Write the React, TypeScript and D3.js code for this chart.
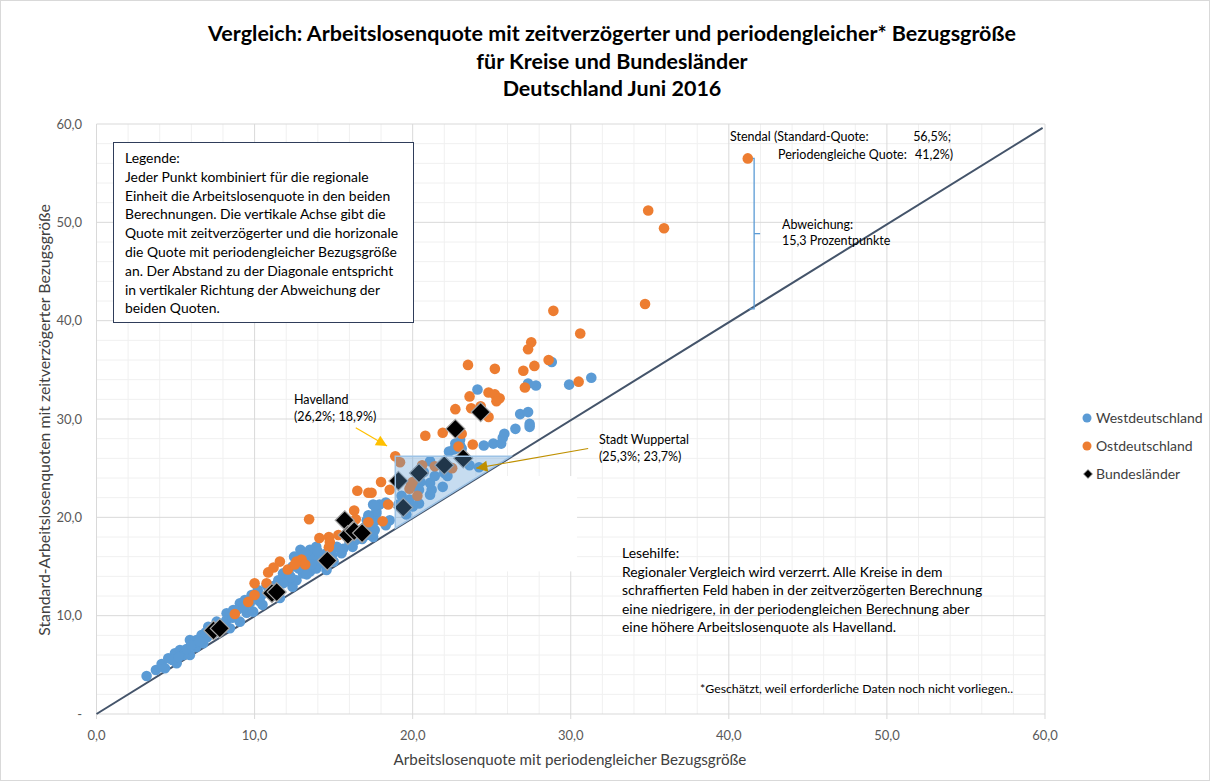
import React from "react";
import * as d3 from "d3";

// Westdeutschland [periodengleich, standard]
const westX = [3.17,3.76,4.12,4.33,4.54,4.96,5.07,5.28,5.5,5.91,5.91,6.33,6.3,6.65,6.75,7.07,7.0,7.6,7.5,8.23,8.0,8.65,8.44,9.07,9.07,9.39,9.5,9.81,9.91,10.2,10.3,10.5,10.76,11.0,11.5,11.6,12.0,12.4,12.66,12.4,12.0,11.8,12.2,11.8,12.65,13.07,13.5,13.9,14.55,12.9,12.5,13.3,13.7,14.1,15.0,15.5,13.9,13.5,14.55,15.2,16.0,16.4,17.1,17.6,17.5,16.9,17.3,17.1,17.6,17.7,17.5,17.7,18.3,17.2,17.9,17.6,17.5,18.55,18.3,19.3,19.1,19.8,20.4,19.7,20.0,20.4,21.1,21.2,21.9,21.1,20.7,21.4,22.0,22.2,21.1,23.6,24.2,20.5,19.6,22.6,23.0,22.7,23.0,22.3,23.1,22.9,22.7,24.5,25.1,25.6,25.7,25.8,26.5,27.4,27.4,26.8,27.3,24.1,27.3,27.8,29.9,31.3,28.8,4.8,5.2,5.7,6.0,6.5,6.9,7.3,7.8,8.2,8.6,8.9,9.3,9.7,10.0,10.4,10.9,11.2,11.4,12.3,12.8,13.3,13.6,14.3,14.9,15.6,16.2,16.8,13.2,14.0];
const westY = [3.87,4.48,5.09,4.65,5.67,6.17,5.16,6.51,6.0,7.53,6.0,7.53,6.8,8.04,7.19,8.88,7.8,9.39,8.3,10.24,9.0,10.58,8.72,11.26,9.39,11.6,10.3,12.1,10.4,12.6,11.5,11.1,13.1,12.2,13.6,11.8,14.3,15.0,15.84,12.95,13.5,14.3,14.1,13.3,13.6,14.3,14.5,14.8,14.65,16.7,16.0,15.5,15.8,15.3,15.5,16.35,17.0,16.7,16.35,17.0,17.4,17.7,18.2,18.7,18.0,18.9,18.5,19.7,19.6,20.4,21.3,20.6,21.5,20.2,21.3,21.2,18.4,19.7,19.2,22.2,21.3,21.8,21.4,21.4,21.1,22.8,22.3,22.8,23.1,23.5,24.6,24.2,24.5,24.2,25.7,25.3,25.1,23.6,20.3,26.9,27.3,27.5,27.9,26.7,27.0,27.6,27.0,27.3,27.5,27.5,28.1,28.5,29.0,29.2,29.5,30.5,30.7,33.0,33.6,33.4,33.5,34.2,35.8,5.5,5.8,6.6,7.0,7.4,8.3,8.6,8.9,9.5,9.8,10.6,10.8,11.3,11.8,12.0,12.6,13.0,12.6,13.9,14.8,14.2,15.2,15.8,16.2,16.8,17.0,17.8,16.3,16.5];

// Ostdeutschland
const ostX = [41.2,34.9,35.9,34.7,28.9,30.6,27.5,27.3,23.5,25.2,27.0,27.7,28.6,30.5,27.1,23.6,24.8,25.2,25.5,25.3,22.7,23.7,24.3,24.8,21.9,23.1,23.8,20.8,22.9,18.9,18.0,17.4,18.1,19.2,20.6,21.4,22.5,19.9,20.3,19.8,20.0,18.55,16.5,17.2,18.45,16.3,16.4,17.2,13.45,14.1,14.7,14.76,14.7,15.3,12.65,12.97,13.2,12.1,12.55,11.6,11.2,10.86,10.76,10.0,10.0,9.6,8.75];
const ostY = [56.5,51.2,49.4,41.7,41.0,38.7,37.8,37.1,35.5,35.1,34.9,35.4,36.0,33.8,33.2,32.3,32.7,32.5,32.1,31.8,31.0,31.1,31.3,30.2,28.6,28.5,27.4,28.3,27.2,26.2,23.6,22.5,19.6,25.6,25.3,25.2,25.0,23.3,22.2,22.9,23.6,22.8,22.7,22.5,21.3,20.7,19.8,19.5,19.8,17.9,18.0,17.5,16.96,18.2,15.5,15.7,15.2,14.7,15.2,15.5,14.9,14.4,13.3,13.3,12.1,11.4,10.17];

// Bundesländer
const landX = [24.3,22.7,23.2,22.0,20.4,19.1,19.4,15.7,15.9,16.3,16.8,14.6,11.1,11.4,7.4,7.8];
const landY = [30.7,29.0,26.0,25.3,24.5,23.7,21.0,19.7,18.2,18.6,18.4,15.6,12.3,12.4,8.5,8.7];

const majorTicks = [0, 10, 20, 30, 40, 50, 60];
const minorTicks = d3.range(0, 61, 2);

const titleLines = [
  "Vergleich: Arbeitslosenquote mit zeitverzögerter und periodengleicher* Bezugsgröße",
  "für Kreise und Bundesländer",
  "Deutschland Juni 2016",
];
const legendBoxLines = [
  "Legende:",
  "Jeder Punkt kombiniert für die regionale",
  "Einheit die Arbeitslosenquote in den beiden",
  "Berechnungen. Die vertikale Achse gibt die",
  "Quote mit zeitverzögerter und die horizonale",
  "die Quote mit periodengleicher Bezugsgröße",
  "an. Der Abstand zu der Diagonale entspricht",
  "in vertikaler Richtung der Abweichung der",
  "beiden Quoten.",
];
const leseLines = [
  "Lesehilfe:",
  "Regionaler Vergleich wird verzerrt. Alle Kreise in dem",
  "schraffierten Feld haben in der zeitverzögerten Berechnung",
  "eine niedrigere, in der periodengleichen Berechnung aber",
  "eine höhere Arbeitslosenquote als Havelland.",
];
const seriesNames = ["Westdeutschland", "Ostdeutschland", "Bundesländer"];

const havelland = { x: 18.9, y: 26.2 };
const stendal = { x: 41.2, y: 56.5 };

const FONT = "Lato, 'Open Sans', sans-serif";
const BLUE = "#5B9BD5";
const ORANGE = "#ED7D31";

export default function App() {
  const W = 1210, H = 781;
  const x = d3.scaleLinear().domain([0, 60]).range([96.5, 1045]);
  const y = d3.scaleLinear().domain([0, 60]).range([714, 124]);
  const fmt = (v: number) => v.toFixed(1).replace(".", ",");

  const west = westX.map((v, i) => [v, westY[i]]);
  const ost = ostX.map((v, i) => [v, ostY[i]]);
  const land = landX.map((v, i) => [v, landY[i]]);

  const diamondPath = (cx: number, cy: number, r: number) =>
    `M${cx},${cy - r}L${cx + r},${cy}L${cx},${cy + r}L${cx - r},${cy}Z`;

  const tri = [
    [havelland.x, havelland.y],
    [havelland.y, havelland.y],
    [havelland.x, havelland.x],
  ];
  const triPath = d3.line<number[]>().x(d => x(d[0])).y(d => y(d[1]))(tri) + "Z";

  // annotation anchors (data units)
  const havArrow = { x1: 16.4, y1: 29.1, x2: 18.38, y2: 27.26 };
  const wupArrow = { x1: 31.1, y1: 27.0, x2: 24.03, y2: 25.0 };
  const brX = 41.6;

  const arrowHead = (x1: number, y1: number, x2: number, y2: number, len: number, wid: number) => {
    const a = Math.atan2(y2 - y1, x2 - x1);
    const bx = x2 - len * Math.cos(a), by = y2 - len * Math.sin(a);
    const px = -Math.sin(a) * wid, py = Math.cos(a) * wid;
    return `M${x2},${y2}L${bx + px},${by + py}L${bx - px},${by - py}Z`;
  };

  const hx1 = x(havArrow.x1), hy1 = y(havArrow.y1), hx2 = x(havArrow.x2), hy2 = y(havArrow.y2);
  const wx1 = x(wupArrow.x1), wy1 = y(wupArrow.y1), wx2 = x(wupArrow.x2), wy2 = y(wupArrow.y2);

  return (
    <svg width={W} height={H} style={{ position: "absolute", left: 0, top: 0, background: "#fff" }} fontFamily={FONT}>
      <rect x={0.5} y={0.5} width={W - 1} height={H - 1} fill="#fff" stroke="#D9D9D9" />
      {/* minor grid */}
      {minorTicks.filter(t => t % 10 !== 0).map(t => (
        <g key={"m" + t}>
          <line x1={x(t)} x2={x(t)} y1={y(0)} y2={y(60)} stroke="#F0F0F0" strokeWidth={1} />
          <line x1={x(0)} x2={x(60)} y1={y(t)} y2={y(t)} stroke="#F0F0F0" strokeWidth={1} />
        </g>
      ))}
      {/* major grid */}
      {majorTicks.map(t => (
        <g key={"M" + t}>
          <line x1={x(t)} x2={x(t)} y1={y(0)} y2={y(60)} stroke="#D9D9D9" strokeWidth={1} />
          <line x1={x(0)} x2={x(60)} y1={y(t)} y2={y(t)} stroke="#D9D9D9" strokeWidth={1} />
          <line x1={x(t)} x2={x(t)} y1={y(0)} y2={y(0) + 5} stroke="#D9D9D9" strokeWidth={1} />
        </g>
      ))}
      {/* white patch */}
      <rect x={x(20)} y={y(24.2)} width={x(30.4) - x(20)} height={y(14.5) - y(24.2)} fill="#fff" />

      {/* diagonal */}
      <line x1={x(0)} y1={y(0)} x2={x(59.85)} y2={y(59.6)} stroke="#44546A" strokeWidth={2} />

      {/* points */}
      {west.map((d, i) => (
        <circle key={"w" + i} cx={x(d[0])} cy={y(d[1])} r={5.3} fill={BLUE} />
      ))}
      {ost.map((d, i) => (
        <circle key={"o" + i} cx={x(d[0])} cy={y(d[1])} r={5.3} fill={ORANGE} />
      ))}
      {land.map((d, i) => (
        <path key={"l" + i} d={diamondPath(x(d[0]), y(d[1]), 9.5)} fill="#000" stroke="#A6A6A6" strokeWidth={1.2} />
      ))}

      {/* shaded triangle */}
      <path d={triPath} fill={BLUE} fillOpacity={0.35} stroke="#9DC3E6" strokeWidth={1.5} />

      {/* Stendal bracket */}
      <path
        d={`M${x(stendal.x) + 5},${y(stendal.y)}H${x(brX)}V${y(stendal.x)}H${x(brX) - 5}`}
        fill="none" stroke={BLUE} strokeWidth={1.3}
      />
      <line x1={x(brX)} x2={x(brX) + 6} y1={y((stendal.x + stendal.y) / 2)} y2={y((stendal.x + stendal.y) / 2)} stroke={BLUE} strokeWidth={1.3} />

      {/* arrows */}
      <line x1={hx1} y1={hy1} x2={hx2} y2={hy2} stroke="#FFC000" strokeWidth={1.2} />
      <path d={arrowHead(hx1, hy1, hx2, hy2, 11, 5.5)} fill="#FFC000" />
      <line x1={wx1} y1={wy1} x2={wx2} y2={wy2} stroke="#BF9000" strokeWidth={1.2} />
      <path d={arrowHead(wx1, wy1, wx2, wy2, 11, 5.5)} fill="#BF9000" />

      {/* axes labels */}
      {majorTicks.map(t => (
        <text key={"xt" + t} x={x(t)} y={740} textAnchor="middle" fontSize={13} fill="#595959">{fmt(t)}</text>
      ))}
      {majorTicks.map(t => (
        <text key={"yt" + t} x={82} y={y(t) + 4.5} textAnchor="end" fontSize={13} fill="#595959">{t === 0 ? "-" : fmt(t)}</text>
      ))}
      <text x={570} y={765} textAnchor="middle" fontSize={15.2} fill="#404040">Arbeitslosenquote mit periodengleicher Bezugsgröße</text>
      <text transform="translate(50,420) rotate(-90)" textAnchor="middle" fontSize={15.8} fill="#404040">Standard-Arbeitslosenquoten mit zeitverzögerter Bezugsgröße</text>

      {/* title */}
      {titleLines.map((t, i) => (
        <text key={"t" + i} x={612} y={41 + i * 27.5} textAnchor="middle" fontSize={21.5} fontWeight="bold" fill="#000">{t}</text>
      ))}

      {/* legend box */}
      <rect x={113.5} y={142.5} width={300} height={180} fill="#fff" stroke="#2F3D5A" strokeWidth={1} />
      {legendBoxLines.map((t, i) => (
        <text key={"lb" + i} x={125} y={163 + i * 18.8} fontSize={13.9} fill="#000">{t}</text>
      ))}

      {/* Stendal text */}
      <text x={730} y={141} fontSize={12.5} fill="#000">Stendal (Standard-Quote:</text>
      <text x={951} y={141} fontSize={12.5} fill="#000" textAnchor="end">56,5%;</text>
      <text x={778} y={159} fontSize={12.5} fill="#000">Periodengleiche Quote:</text>
      <text x={953} y={159} fontSize={12.5} fill="#000" textAnchor="end">41,2%)</text>
      <text x={782} y={229} fontSize={12.5} fill="#000">Abweichung:</text>
      <text x={782} y={245} fontSize={12.5} fill="#000">15,3 Prozentpunkte</text>

      <text x={294} y={404} fontSize={12.5} fill="#000">Havelland</text>
      <text x={294} y={421} fontSize={12.5} fill="#000">(26,2%; 18,9%)</text>
      <text x={599} y={444} fontSize={12.5} fill="#000">Stadt Wuppertal</text>
      <text x={599} y={461} fontSize={12.5} fill="#000">(25,3%; 23,7%)</text>

      {leseLines.map((t, i) => (
        <text key={"ls" + i} x={622} y={558 + i * 18.6} fontSize={13.9} fill="#000">{t}</text>
      ))}
      <text x={700} y={693} fontSize={12.3} fill="#000">*Geschätzt, weil erforderliche Daten noch nicht vorliegen..</text>

      {/* series legend */}
      <circle cx={1087} cy={418} r={4.5} fill={BLUE} />
      <circle cx={1087} cy={446} r={4.5} fill={ORANGE} />
      <path d={diamondPath(1088, 474, 4.5)} fill="#000" stroke="#A6A6A6" strokeWidth={0.8} />
      {seriesNames.map((n, i) => (
        <text key={"sn" + i} x={1096} y={423 + i * 28} fontSize={14} fill="#404040">{n}</text>
      ))}
    </svg>
  );
}
